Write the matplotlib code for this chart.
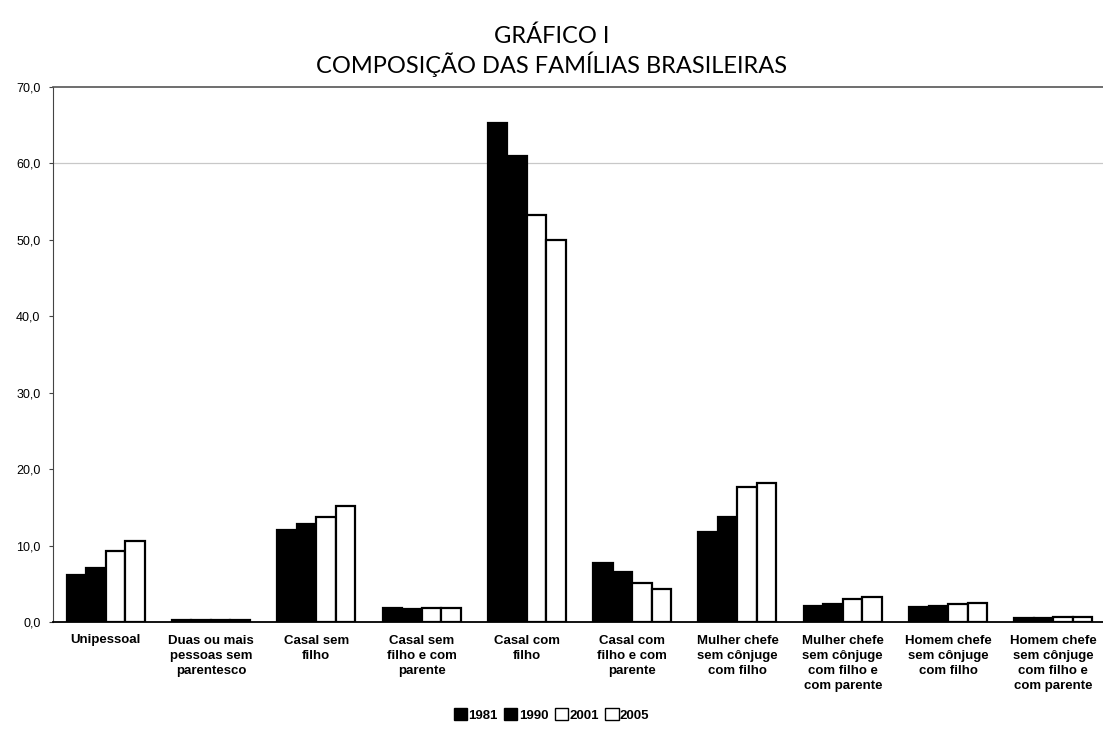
import matplotlib
matplotlib.use("Agg")
import matplotlib.pyplot as plt
import numpy as np

categories = [
    "Unipessoal",
    "Duas ou mais\npessoas sem\nparentesco",
    "Casal sem\nfilho",
    "Casal sem\nfilho e com\nparente",
    "Casal com\nfilho",
    "Casal com\nfilho e com\nparente",
    "Mulher chefe\nsem cônjuge\ncom filho",
    "Mulher chefe\nsem cônjuge\ncom filho e\ncom parente",
    "Homem chefe\nsem cônjuge\ncom filho",
    "Homem chefe\nsem cônjuge\ncom filho e\ncom parente",
]
years = ["1981", "1990", "2001", "2005"]
v1981 = [6.1, 0.3, 12.0, 1.8, 65.3, 7.7, 11.8, 2.1, 2.0, 0.5]
v1990 = [7.1, 0.3, 12.8, 1.7, 61.0, 6.5, 13.8, 2.4, 2.1, 0.5]
v2001 = [9.3, 0.3, 13.8, 1.8, 53.3, 5.1, 17.7, 3.0, 2.4, 0.6]
v2005 = [10.6, 0.3, 15.2, 1.8, 50.0, 4.3, 18.2, 3.3, 2.5, 0.6]
yticks = [0, 10, 20, 30, 40, 50, 60, 70]

series = [v1981, v1990, v2001, v2005]
colors = ["black", "black", "white", "white"]

fig = plt.figure(figsize=(11.03, 7.46), dpi=100)
ax = fig.add_axes([53 / 1103, 1 - 622 / 746, (1106 - 53) / 1103, (622 - 87) / 746])

x = np.arange(len(categories))
w = 0.185
for i, (vals, c) in enumerate(zip(series, colors)):
    ax.bar(x + (i - 1.5) * w, vals, width=w, color=c, edgecolor="black",
           linewidth=1.6, label=years[i], zorder=3)

ax.set_xlim(-0.5, len(categories) - 0.5)
ax.set_ylim(0, 70)
ax.set_yticks(yticks)
ax.set_yticklabels([f"{t:.1f}".replace(".", ",") for t in yticks],
                   fontsize=9, family="Liberation Sans")
ax.axhline(60, color="#c8c8c8", linewidth=0.9, zorder=1)
ax.spines["top"].set_color("#555555")
ax.spines["top"].set_linewidth(1.2)
ax.spines["right"].set_visible(False)
ax.spines["left"].set_color("#444444")
ax.spines["bottom"].set_linewidth(1.3)
ax.tick_params(axis="y", length=3, color="#444444", pad=6)
ax.tick_params(axis="x", length=0, pad=9)
ax.set_xticks(x)
ax.set_xticklabels(categories, fontsize=9.5, fontweight="bold",
                   family="Liberation Sans", linespacing=1.35, va="top")

fig.text(0.5, 1 - 36 / 746, "GRÁFICO I", ha="center", va="center",
         fontsize=17, family="Lato", fontweight="normal", color="black")
fig.text(0.5, 1 - 64 / 746, "COMPOSIÇÃO DAS FAMÍLIAS BRASILEIRAS", ha="center",
         va="center", fontsize=17, family="Lato", fontweight="normal", color="black")

leg = fig.legend(loc="center", bbox_to_anchor=(0.5, 1 - 715 / 746), ncol=4,
                 frameon=False, handlelength=1.0, handleheight=1.0,
                 handletextpad=0.1, columnspacing=0.5,
                 prop={"family": "Liberation Sans", "weight": "bold", "size": 9.5})
for h in leg.legend_handles:
    h.set_linewidth(1.0)

fig.savefig("out.png", dpi=100)
